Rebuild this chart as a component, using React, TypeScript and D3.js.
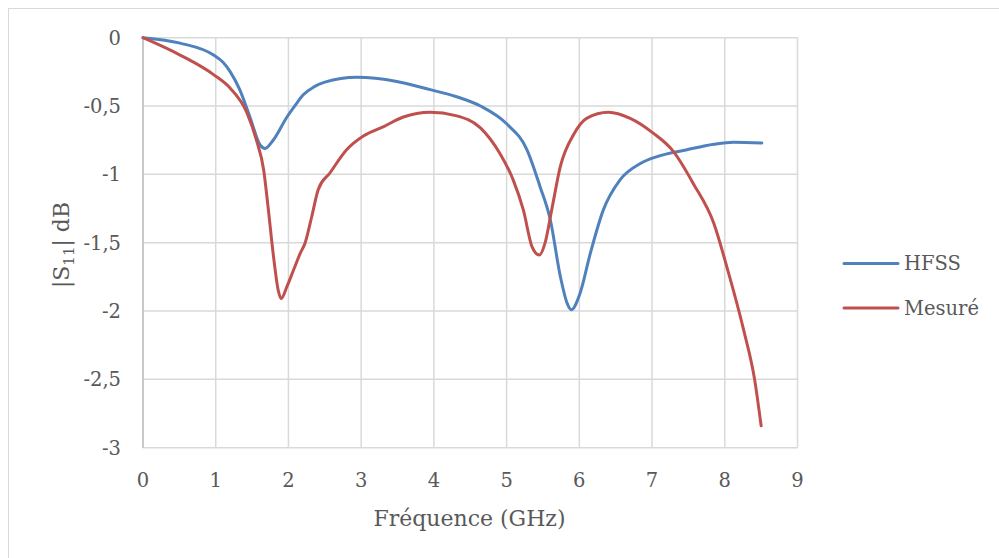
import React from "react";
import * as d3 from "d3";

const hfssFreq = [0, 0.51, 0.97, 1.1, 1.2, 1.33, 1.47, 1.61, 1.68, 1.79, 1.98, 2.1, 2.2, 2.35, 2.5, 2.94, 3.49, 3.95, 4.3, 4.64, 5.0, 5.28, 5.46, 5.6, 5.74, 5.83, 5.89, 6.01, 6.15, 6.33, 6.56, 6.84, 7.07, 7.48, 7.85, 8.12, 8.51];
const hfssS11 = [0, -0.04, -0.127, -0.18, -0.25, -0.38, -0.58, -0.785, -0.81, -0.75, -0.58, -0.49, -0.42, -0.36, -0.325, -0.29, -0.32, -0.38, -0.43, -0.5, -0.63, -0.82, -1.09, -1.33, -1.75, -1.94, -1.99, -1.87, -1.58, -1.26, -1.04, -0.92, -0.87, -0.82, -0.78, -0.765, -0.77];

const mesFreq = [0, 0.51, 0.97, 1.2, 1.43, 1.56, 1.66, 1.72, 1.79, 1.86, 1.9, 1.98, 2.07, 2.16, 2.23, 2.32, 2.41, 2.57, 2.8, 3.03, 3.31, 3.58, 3.95, 4.3, 4.64, 4.91, 5.09, 5.23, 5.35, 5.45, 5.53, 5.62, 5.74, 5.92, 6.1, 6.4, 6.7, 7.02, 7.29, 7.57, 7.85, 8.03, 8.26, 8.41, 8.5];
const mesS11 = [0, -0.127, -0.27, -0.37, -0.55, -0.75, -0.97, -1.24, -1.58, -1.85, -1.91, -1.82, -1.7, -1.58, -1.5, -1.31, -1.11, -0.99, -0.82, -0.72, -0.65, -0.58, -0.545, -0.57, -0.66, -0.85, -1.04, -1.26, -1.53, -1.59, -1.5, -1.26, -0.94, -0.71, -0.59, -0.545, -0.59, -0.7, -0.83, -1.07, -1.36, -1.68, -2.14, -2.5, -2.84];

const xTicks = [0, 1, 2, 3, 4, 5, 6, 7, 8, 9];
const yTicks = [0, -0.5, -1, -1.5, -2, -2.5, -3];
const seriesNames = ["HFSS", "Mesuré"];
const seriesColors = ["#4F81BD", "#C0504D"];

export default function App() {
  const W = 999, H = 558;
  const x = d3.scaleLinear().domain([0, 9]).range([143, 797.5]);
  const y = d3.scaleLinear().domain([0, -3]).range([37.7, 447.7]);
  const line = d3.line<[number, number]>().x(d => x(d[0])).y(d => y(d[1])).curve(d3.curveMonotoneX);
  const series = [
    hfssFreq.map((f, i) => [f, hfssS11[i]] as [number, number]),
    mesFreq.map((f, i) => [f, mesS11[i]] as [number, number]),
  ];
  const font = "'DejaVu Serif', serif";
  const textColor = "#595959";
  const fmt = (v: number) => (v === 0 ? "0" : String(v).replace(".", ","));
  return (
    <svg width={W} height={H} style={{ position: "absolute", left: 0, top: 0 }}>
      <rect x={0} y={0} width={W} height={H} fill="#fff" />
      <rect x={8.5} y={8.5} width={1100} height={1000} fill="none" stroke="#d9d9d9" strokeWidth={1} />
      {xTicks.map(t => (
        <line key={"gx" + t} x1={x(t)} x2={x(t)} y1={y(0)} y2={y(-3)} stroke="#d9d9d9" strokeWidth={1.5} />
      ))}
      {yTicks.map(t => (
        <line key={"gy" + t} x1={x(0)} x2={x(9)} y1={y(t)} y2={y(t)} stroke="#d9d9d9" strokeWidth={1.5} />
      ))}
      <line x1={x(0)} x2={x(0)} y1={y(0)} y2={y(-3)} stroke="#bfbfbf" strokeWidth={1.5} />
      {yTicks.map(t => (
        <text key={"ty" + t} x={121} y={y(t)} dy="0.35em" textAnchor="end" fontFamily={font} fontSize={19.5} fill={textColor}>{fmt(t)}</text>
      ))}
      {xTicks.map(t => (
        <text key={"tx" + t} x={x(t)} y={487} textAnchor="middle" fontFamily={font} fontSize={19.5} fill={textColor}>{t}</text>
      ))}
      <text x={469.5} y={526} textAnchor="middle" fontFamily={font} fontSize={22} fill={textColor}>Fréquence (GHz)</text>
      <text transform="translate(69,245) rotate(-90)" textAnchor="middle" fontFamily={font} fontSize={22} fill={textColor}>
        |S<tspan fontSize={15} dy={5}>11</tspan><tspan dy={-5}>| dB</tspan>
      </text>
      {series.map((s, i) => (
        <path key={"s" + i} d={line(s) || ""} fill="none" stroke={seriesColors[i]} strokeWidth={3} strokeLinejoin="round" strokeLinecap="round" />
      ))}
      {seriesNames.map((n, i) => (
        <g key={"l" + i}>
          <line x1={844} x2={898} y1={263.5 + i * 44.5} y2={263.5 + i * 44.5} stroke={seriesColors[i]} strokeWidth={3} strokeLinecap="round" />
          <text x={904} y={263.5 + i * 44.5} dy="0.35em" fontFamily={font} fontSize={19.5} fill={textColor}>{n}</text>
        </g>
      ))}
    </svg>
  );
}
